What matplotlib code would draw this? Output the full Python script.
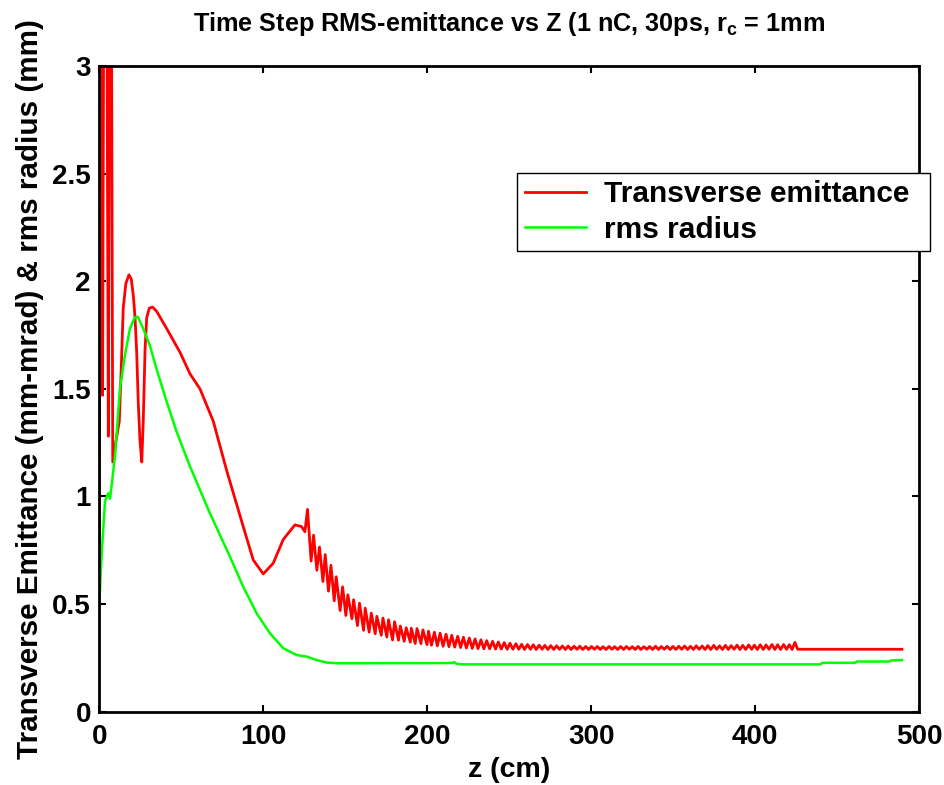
import numpy as np
import matplotlib
matplotlib.use("Agg")
import matplotlib.pyplot as plt
from matplotlib.ticker import FuncFormatter

plt.rcParams["font.family"] = ["Liberation Sans", "DejaVu Sans"]
plt.rcParams["font.weight"] = "bold"
plt.rcParams["axes.labelweight"] = "bold"
plt.rcParams["axes.titleweight"] = "bold"
plt.rcParams["mathtext.fontset"] = "custom"
plt.rcParams["mathtext.rm"] = "Liberation Sans:bold"
plt.rcParams["mathtext.default"] = "rm"

# emittance, start + first humps (z in cm)
z_em_start = [0.0, 0.6, 1.3, 2.0, 2.8, 3.5, 4.5, 5.5, 6.4, 7.3, 8.2, 10.0,
              12.2, 13.4, 14.6, 16.2, 18.1, 19.5, 20.8, 21.8, 22.8, 23.8,
              24.8, 25.9, 26.8, 27.9, 28.9, 30.5, 32.5, 35.0, 41.1, 49.2,
              55.3, 61.4, 69.5, 77.7, 87.8, 93.9, 100.0, 106.1, 112.2,
              119.3, 123.4, 125.4]
em_start = [0.74, 3.6, 2.1, 1.47, 3.6, 3.6, 3.6, 1.28, 3.6, 3.6, 1.16, 1.25,
            1.35, 1.6, 1.875, 1.99, 2.03, 2.01, 1.93, 1.83, 1.67, 1.43,
            1.26, 1.16, 1.35, 1.68, 1.83, 1.875, 1.88, 1.86, 1.78, 1.67,
            1.57, 1.50, 1.35, 1.12, 0.86, 0.705, 0.64, 0.69, 0.80,
            0.868, 0.86, 0.836]

# emittance oscillation maxima (z, value)
em_peaks = [
    (127.0, 0.94), (130.7, 0.82), (134.3, 0.765), (137.8, 0.73), (141.3, 0.68),
    (144.5, 0.627), (148.4, 0.58), (151.6, 0.543), (155.1, 0.52), (158.7, 0.504),
    (162.2, 0.481), (165.9, 0.458), (169.3, 0.443), (173.0, 0.435), (176.4, 0.427),
    (180.1, 0.418), (183.6, 0.398), (187.2, 0.39), (190.3, 0.388), (193.8, 0.386),
    (197.4, 0.38), (200.8, 0.374), (204.4, 0.369), (207.9, 0.365), (211.5, 0.36),
    (215.0, 0.355), (218.6, 0.35), (222.1, 0.346), (225.7, 0.342), (229.2, 0.338),
    (232.8, 0.334), (236.3, 0.330), (239.9, 0.327), (243.4, 0.324), (247.0, 0.321),
    (250.5, 0.318), (254.1, 0.316), (257.6, 0.313), (261.2, 0.312), (264.7, 0.311),
    (268.3, 0.309), (271.8, 0.308), (275.4, 0.307), (278.9, 0.306), (282.5, 0.305),
    (286.0, 0.305), (289.6, 0.304), (293.1, 0.304), (296.7, 0.303), (300.2, 0.303),
    (303.8, 0.303), (307.3, 0.302), (310.9, 0.303), (314.4, 0.302), (318.0, 0.303),
    (321.5, 0.303), (325.1, 0.302), (328.6, 0.303), (332.2, 0.302), (335.7, 0.303),
    (339.3, 0.304), (342.8, 0.303), (346.4, 0.304), (349.9, 0.303), (353.5, 0.304),
    (357.0, 0.305), (360.6, 0.304), (364.1, 0.306), (367.7, 0.305), (371.2, 0.307),
    (374.8, 0.308), (378.3, 0.306), (381.9, 0.308), (385.4, 0.307), (389.0, 0.309),
    (392.5, 0.308), (396.1, 0.310), (399.6, 0.309), (403.2, 0.311), (406.7, 0.310),
    (410.3, 0.312), (413.8, 0.311), (417.4, 0.312), (420.9, 0.311), (424.3, 0.322),
]

# emittance oscillation minima (z, value)
em_troughs = [
    (129.2, 0.70), (132.7, 0.657), (136.4, 0.605), (139.8, 0.56), (143.3, 0.515),
    (146.9, 0.47), (150.4, 0.447), (154.1, 0.432), (157.5, 0.40), (161.2, 0.378),
    (164.6, 0.37), (168.3, 0.362), (172.0, 0.355), (175.4, 0.347), (178.9, 0.333),
    (182.5, 0.332), (186.0, 0.327), (189.7, 0.323), (192.7, 0.317), (196.2, 0.316),
    (199.9, 0.312), (202.6, 0.309), (206.2, 0.306), (209.7, 0.304), (213.3, 0.302),
    (216.8, 0.300), (220.4, 0.298), (223.9, 0.296), (227.5, 0.294), (231.0, 0.293),
    (234.6, 0.292), (238.1, 0.292), (241.7, 0.291), (245.2, 0.291), (248.8, 0.290),
    (252.3, 0.290), (255.9, 0.290), (259.4, 0.289), (263.0, 0.290), (266.5, 0.289),
    (270.1, 0.290), (273.6, 0.289), (277.2, 0.289), (280.7, 0.290), (284.3, 0.289),
    (287.8, 0.289), (291.4, 0.290), (294.9, 0.289), (298.5, 0.289), (302.0, 0.290),
    (305.6, 0.289), (309.1, 0.289), (312.7, 0.290), (316.2, 0.289), (319.8, 0.289),
    (323.3, 0.290), (326.9, 0.289), (330.4, 0.289), (334.0, 0.290), (337.5, 0.289),
    (341.1, 0.289), (344.6, 0.290), (348.2, 0.289), (351.7, 0.289), (355.3, 0.290),
    (358.8, 0.289), (362.4, 0.289), (365.9, 0.290), (369.5, 0.289), (373.0, 0.289),
    (376.6, 0.290), (380.1, 0.289), (383.7, 0.289), (387.2, 0.290), (390.8, 0.289),
    (394.3, 0.289), (397.9, 0.290), (401.4, 0.289), (405.0, 0.289), (408.5, 0.290),
    (412.1, 0.289), (415.6, 0.289), (419.2, 0.290), (422.6, 0.289),
]

z_em_end = [426.0, 489.6]
em_end = [0.29, 0.29]

# rms radius
z_rms = [0.0, 1.5, 3.5, 5.5, 6.5, 7.5, 9.6, 12.6, 15.7, 18.7, 21.5, 23.5,
         26.8, 30.9, 35.0, 41.1, 47.2, 55.3, 67.0, 79.7, 87.8, 96.0, 104.1,
         112.2, 120.4, 126.5, 132.6, 138.7, 145.0, 214.9, 216.5, 218.0,
         222.0, 440.0, 441.0, 461.0, 462.0, 482.0, 483.0, 489.6]
r_rms = [0.50, 0.74, 0.98, 1.015, 0.99, 1.05, 1.19, 1.50, 1.66, 1.78, 1.83,
         1.835, 1.78, 1.70, 1.59, 1.44, 1.30, 1.14, 0.93, 0.72, 0.58, 0.457,
         0.364, 0.295, 0.263, 0.256, 0.24, 0.228, 0.225, 0.226, 0.23, 0.222,
         0.22, 0.22, 0.227, 0.227, 0.233, 0.233, 0.238, 0.24]

osc = sorted(em_peaks + em_troughs)
z_em = np.concatenate([z_em_start, [p[0] for p in osc], z_em_end])
em = np.concatenate([em_start, [p[1] for p in osc], em_end])

fig = plt.figure(figsize=(9.44, 7.85), dpi=100)
ax = fig.add_axes([0.1052, 0.0934, 0.8683, 0.8225])

ax.plot(z_em, em, color="#ff0000", lw=2.0, label="Transverse emittance")
ax.plot(z_rms, r_rms, color="#00ff00", lw=1.8, label="rms radius")

ax.set_xlim(0, 500)
ax.set_ylim(0, 3)
ax.set_xticks([0, 100, 200, 300, 400, 500])
ax.set_yticks([0, 0.5, 1, 1.5, 2, 2.5, 3])
ax.yaxis.set_major_formatter(FuncFormatter(lambda v, p: "%g" % v))
ax.tick_params(direction="in", length=5, width=1.5, labelsize=20,
               top=True, right=True, pad=6)
ax.tick_params(axis="x", pad=9)
for s in ax.spines.values():
    s.set_linewidth(2.0)

ax.set_xlabel("z (cm)", fontsize=20.5, fontweight="bold", labelpad=5)
ax.set_ylabel("Transverse Emittance (mm-mrad) & rms radius (mm)",
              fontsize=21.3, fontweight="bold", labelpad=6)
ax.set_title("Time Step RMS-emittance vs Z (1 nC, 30ps, r$_c$ = 1mm",
             fontsize=18.2, fontweight="bold", pad=25)

leg = ax.legend(loc="upper left", bbox_to_anchor=(0.51, 0.712, 0.504, 0.123),
                mode="expand", borderaxespad=0, fontsize=21.5, fancybox=False,
                framealpha=1, edgecolor="black", handlelength=2.04,
                handletextpad=0.6, labelspacing=0.26, borderpad=0.25)
leg.get_frame().set_linewidth(1.0)

plt.savefig("out.png", dpi=100)
